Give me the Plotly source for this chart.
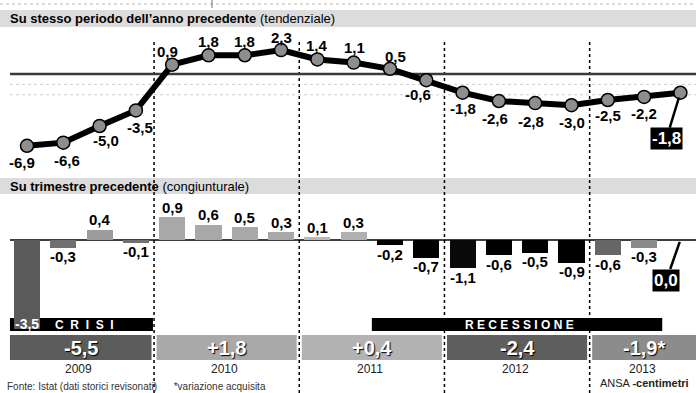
import plotly.graph_objects as go

# ---------------- data ----------------
quarters = ["I-09", "II-09", "III-09", "IV-09",
            "I-10", "II-10", "III-10", "IV-10",
            "I-11", "II-11", "III-11", "IV-11",
            "I-12", "II-12", "III-12", "IV-12",
            "I-13", "II-13", "III-13"]
yoy = [-6.9, -6.6, -5.0, -3.5, 0.9, 1.8, 1.8, 2.3, 1.4, 1.1, 0.5, -0.6,
       -1.8, -2.6, -2.8, -3.0, -2.5, -2.2, -1.8]
qoq = [-3.5, -0.3, 0.4, -0.1, 0.9, 0.6, 0.5, 0.3, 0.1, 0.3, -0.2, -0.7,
       -1.1, -0.6, -0.5, -0.9, -0.6, -0.3, 0.0]
years = ["2009", "2010", "2011", "2012", "2013"]
annual_labels = ["-5,5", "+1,8", "+0,4", "-2,4", "-1,9*"]

# ---------------- styles ----------------
W, H = 696, 393
bar_colors = ["#5a5a5a", "#707070", "#9c9c9c", "#707070",
              "#a8a8a8", "#a8a8a8", "#a8a8a8", "#a8a8a8",
              "#b8b8b8", "#b0b0b0", "#000000", "#000000",
              "#0a0a0a", "#000000", "#000000", "#000000",
              "#666666", "#8a8a8a", "#8a8a8a"]
box_colors = ["#5c5c5c", "#a9a9a9", "#b3b3b3", "#5e5e5e", "#8c8c8c"]
# label offsets (px) for the year-on-year line labels
line_lab_off = [(-5, -17), (4, -18), (6, -14), (4, -17),
                (-5, 13), (0, 14), (0, 14), (0, 13),
                (0, 14), (1, 15), (5, 12), (-8, -14),
                (0, -16), (-4, -17), (-4, -18), (0, -17),
                (0, -15), (0, -17), None]
FONT = "Liberation Sans, Arial, sans-serif"


def fmt(v):
    return f"{v:.1f}".replace(".", ",")


def py(y):
    return 1 - y / H


def px(x):
    return x / W


def A(**kw):
    d = dict(xanchor="center", yanchor="middle", showarrow=False)
    d.update(kw)
    return d


xs = list(range(len(quarters)))
step = 36.3
x0px = 27

fig = go.Figure()
fig.add_trace(go.Bar(x=xs, y=qoq, yaxis="y2", width=0.72,
                     marker=dict(color=bar_colors, line=dict(width=0)),
                     hoverinfo="skip"))
fig.add_trace(go.Scatter(x=xs, y=yoy, mode="lines+markers",
                         line=dict(color="black", width=6),
                         marker=dict(size=13, color="#8e8e8e",
                                     line=dict(color="black", width=1.5)),
                         hoverinfo="skip"))

shapes = []
ann = []

# top thin dotted rule + tick
shapes.append(dict(type="line", xref="paper", yref="paper", x0=0, x1=1,
                   y0=py(4), y1=py(4), line=dict(color="#b5b5b5", width=1, dash="dot"),
                   layer="below"))
shapes.append(dict(type="line", xref="paper", yref="paper", x0=px(212), x1=px(212),
                   y0=py(0), y1=py(8), line=dict(color="#777", width=1), layer="below"))

# header bands
for (y0, y1) in [(10, 27), (178, 194)]:
    shapes.append(dict(type="rect", xref="paper", yref="paper", x0=0, x1=1,
                       y0=py(y1), y1=py(y0), fillcolor="#dcdcdc",
                       line=dict(width=0), layer="below"))

# faint grid lines in line chart
for g in [-1, -2]:
    shapes.append(dict(type="line", xref="paper", yref="y", x0=px(10), x1=1,
                       y0=g, y1=g, line=dict(color="#cfcfcf", width=1, dash="dot"),
                       layer="below"))

# CRISI / RECESSIONE bands
bands = [(-0.47, 3.47, "C  R  I  S  I"), (9.5, 17.5, "R E C E S S I O N E")]
for (b0, b1, t) in bands:
    shapes.append(dict(type="rect", xref="x", yref="paper", x0=b0, x1=b1,
                       y0=py(331), y1=py(318), fillcolor="black",
                       line=dict(width=0), layer="below"))
    ann.append(A(x=(b0 + b1) / 2 + 0.08, y=py(324.5), xref="x", yref="paper",
                 text=f"<b>{t}</b>",
                 font=dict(family=FONT, size=12, color="white")))

# yearly boxes
box_x = [(-0.47, 3.43), (3.57, 7.43), (7.57, 11.43), (11.57, 15.43), (15.57, 18.6)]
for k, (b0, b1) in enumerate(box_x):
    shapes.append(dict(type="rect", xref="x", yref="paper", x0=b0, x1=b1,
                       y0=py(360), y1=py(335), fillcolor=box_colors[k],
                       line=dict(width=0), layer="below"))
    cx = (b0 + min(b1, 18.43)) / 2
    ann.append(A(x=cx, y=py(347.5), xref="x", yref="paper",
                 text=f"<b>{annual_labels[k]}</b>",
                 font=dict(family=FONT, size=20, color="white",
                           shadow="1px 1px 1px #000")))
    ann.append(A(x=cx - 0.05, y=py(369), xref="x", yref="paper",
                 text=" ".join(years[k]) if False else years[k],
                 font=dict(family=FONT, size=12, color="#222")))

# year separators
for s in [3.5, 7.5, 11.5, 15.5]:
    shapes.append(dict(type="line", xref="x", yref="paper", x0=s, x1=s,
                       y0=py(393), y1=py(42), line=dict(color="black", width=1.5, dash="dot"),
                       layer="below"))

# zero lines
shapes.append(dict(type="line", xref="paper", yref="y", x0=px(10), x1=1, y0=0, y1=0,
                   line=dict(color="#3a3a3a", width=2.5), layer="below"))
shapes.append(dict(type="line", xref="paper", yref="y2", x0=px(10), x1=1, y0=0, y1=0,
                   line=dict(color="black", width=1.5), layer="below"))

# headers
ann.append(A(x=px(8), y=py(18.5), xref="paper", yref="paper", xanchor="left",
             text="<b>Su stesso periodo dell’anno precedente</b> (tendenziale)",
             font=dict(family=FONT, size=13, color="black")))
ann.append(A(x=px(8), y=py(186.5), xref="paper", yref="paper", xanchor="left",
             text="<b>Su trimestre precedente</b> (congiunturale)",
             font=dict(family=FONT, size=13, color="black")))

# line labels
for i, v in enumerate(yoy):
    off = line_lab_off[i]
    if off is None:
        ann.append(A(x=i, y=v, xref="x", yref="y", text=f"<b>{fmt(v)}</b>",
                     showarrow=True, arrowhead=0, arrowwidth=2.5, arrowcolor="black",
                     ax=-14, ay=46, standoff=5, bgcolor="black", borderpad=1,
                     font=dict(family=FONT, size=17, color="white")))
        continue
    ann.append(A(x=i, y=v, xref="x", yref="y", text=f"<b>{fmt(v)}</b>",
                 xshift=off[0], yshift=off[1],
                 font=dict(family=FONT, size=15, color="black")))

# bar labels
for i, v in enumerate(qoq):
    if i == 0:
        ann.append(A(x=i, y=v, xref="x", yref="y2", text=f"<b>{fmt(v)}</b>",
                     yshift=5,
                     font=dict(family=FONT, size=14, color="white")))
    elif i == len(qoq) - 1:
        ann.append(A(x=i, y=v, xref="x", yref="y2", text=f"<b>{fmt(v)}</b>",
                     showarrow=True, arrowhead=0, arrowwidth=2.5, arrowcolor="black",
                     ax=-14, ay=40, standoff=2, bgcolor="black", borderpad=1,
                     font=dict(family=FONT, size=17, color="white")))
    elif v > 0:
        ann.append(A(x=i, y=v, xref="x", yref="y2", text=f"<b>{fmt(v)}</b>",
                     yshift=10,
                     font=dict(family=FONT, size=15, color="black")))
    else:
        ann.append(A(x=i, y=v, xref="x", yref="y2", text=f"<b>{fmt(v)}</b>",
                     yshift=-9,
                     font=dict(family=FONT, size=15, color="black")))

# footer
ann.append(A(x=px(5), y=py(386), xref="paper", yref="paper", xanchor="left",
             text="Fonte: Istat (dati storici revisonati)      *variazione acquisita",
             font=dict(family=FONT, size=10, color="#333")))
ann.append(A(x=px(598), y=py(383), xref="paper", yref="paper", xanchor="left",
             text="ANSA <b>-centimetri</b>",
             font=dict(family=FONT, size=11, color="#222")))

fig.update_layout(
    width=W, height=H,
    margin=dict(l=0, r=0, t=0, b=0),
    paper_bgcolor="white", plot_bgcolor="white",
    showlegend=False,
    xaxis=dict(range=[-x0px / step, (W - x0px) / step], visible=False, fixedrange=True),
    yaxis=dict(range=[(74 - H) / 10.4, 74 / 10.4], visible=False, fixedrange=True),
    yaxis2=dict(range=[(240 - H) / 25.5, 240 / 25.5], overlaying="y", visible=False,
                fixedrange=True),
    shapes=shapes,
    annotations=ann,
    bargap=0,
)

fig.write_html("out.html")
